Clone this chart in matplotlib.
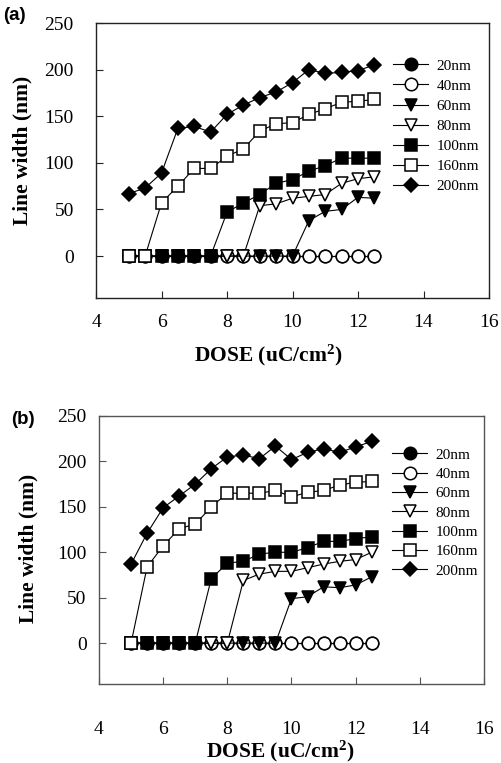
import matplotlib
matplotlib.use("Agg")
import matplotlib.pyplot as plt

plt.rcParams["mathtext.fontset"] = "custom"
plt.rcParams["mathtext.rm"] = "Liberation Serif"
plt.rcParams["mathtext.bf"] = "Liberation Serif:bold"

dose = [5.0, 5.5, 6.0, 6.5, 7.0, 7.5, 8.0, 8.5, 9.0, 9.5, 10.0, 10.5, 11.0, 11.5, 12.0, 12.5]
labels = ["20nm", "40nm", "60nm", "80nm", "100nm", "160nm", "200nm"]

# panel (a)
a_20 = [0] * 16
a_40 = [0] * 16
a_60 = [0, 0, 0, 0, 0, 0, 0, 0, 0, 0, 0, 38, 48, 50, 63, 62]
a_80 = [0, 0, 0, 0, 0, 0, 0, 0, 54, 56, 62, 64, 66, 78, 83, 85]
a_100 = [0, 0, 0, 0, 0, 0, 47, 57, 66, 78, 82, 91, 97, 105, 105, 105]
a_160 = [0, 0, 57, 75, 94, 94, 107, 115, 134, 142, 143, 152, 158, 165, 166, 168]
a_200 = [67, 73, 89, 137, 139, 133, 152, 162, 170, 176, 186, 200, 196, 197, 199, 205]

# panel (b)
b_20 = [0] * 16
b_40 = [0] * 16
b_60 = [0, 0, 0, 0, 0, 0, 0, 0, 0, 0, 49, 51, 62, 61, 64, 73]
b_80 = [0, 0, 0, 0, 0, 0, 0, 69, 76, 79, 79, 83, 87, 90, 92, 100]
b_100 = [0, 0, 0, 0, 0, 71, 88, 90, 98, 100, 100, 105, 112, 112, 115, 117]
b_160 = [0, 84, 107, 126, 131, 150, 165, 165, 165, 168, 161, 166, 168, 174, 177, 178]
b_200 = [87, 121, 149, 162, 175, 192, 205, 207, 203, 217, 202, 210, 214, 210, 216, 222]

styles = [("o", "black", 9), ("o", "white", 9), ("v", "black", 9), ("v", "white", 9),
          ("s", "black", 9), ("s", "white", 9), ("D", "black", 7.4)]

serif = "Liberation Serif"
W, H = 501, 763
fig = plt.figure(figsize=(W / 100, H / 100), dpi=100)


def panel(box, series, spine_col, xpad, ypad, leg_xy, leg_sp):
    ax = fig.add_axes(box)
    for vals, lab, (m, fc, ms) in zip(series, labels, styles):
        ax.plot(dose, vals, color="black", lw=0.8, marker=m, ms=ms,
                mfc=fc, mec="black", mew=1.1, label=lab)
    ax.set_xlim(4, 16)
    ax.set_ylim(-45, 250)
    ax.set_xticks(range(4, 17, 2))
    ax.set_yticks(range(0, 251, 50))
    ax.tick_params(direction="in", length=5, width=0.8, color=spine_col,
                   labelsize=14)
    ax.tick_params(axis="x", pad=xpad)
    ax.tick_params(axis="y", pad=ypad)
    for t in ax.get_xticklabels() + ax.get_yticklabels():
        t.set_fontfamily(serif)
    for s in ax.spines.values():
        s.set_color(spine_col)
        s.set_linewidth(1.0)
    ax.legend(loc="upper left", bbox_to_anchor=(leg_xy[0] / W, 1 - leg_xy[1] / H),
              bbox_transform=fig.transFigure, frameon=False, numpoints=1,
              prop={"family": serif, "size": 11}, handlelength=2.3,
              handletextpad=0.55, labelspacing=leg_sp, borderpad=0,
              borderaxespad=0)
    return ax


panel([96 / W, 1 - 298 / H, (489 - 96) / W, (298 - 23) / H],
      [a_20, a_40, a_60, a_80, a_100, a_160, a_200], "#222222", 11.5, 16,
      (393, 59), 0.42)
panel([99 / W, 1 - 684 / H, (484 - 99) / W, (684 - 416) / H],
      [b_20, b_40, b_60, b_80, b_100, b_160, b_200], "#555555", 27, 9,
      (392, 448), 0.37)

lab_font = {"family": serif, "weight": "bold", "size": 15.5}
xlab = "DOSE (uC/cm$\\mathbf{^2}$)"
fig.text(268 / W, 1 - 361 / H, xlab, ha="center", va="baseline", fontdict=lab_font)
fig.text(280 / W, 1 - 757 / H, xlab, ha="center", va="baseline", fontdict=lab_font)
fig.text(22 / W, 1 - 150 / H, "Line width (nm)", rotation=90, ha="center",
         va="center", fontdict=lab_font)
fig.text(28 / W, 1 - 548 / H, "Line width (nm)", rotation=90, ha="center",
         va="center", fontdict=lab_font)

fig.text(3 / W, 1 - 15 / H, "(a)", ha="left", va="center",
         family="Liberation Sans", weight="bold", size=13.5)
fig.text(11 / W, 1 - 420 / H, "(b)", ha="left", va="center",
         family="Liberation Sans", weight="bold", size=13.5)

fig.savefig("out.png", dpi=100)
